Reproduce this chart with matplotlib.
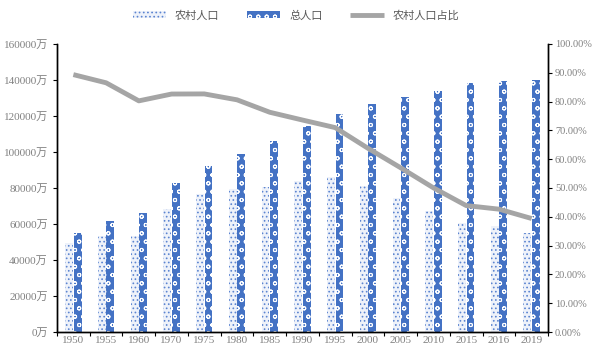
import numpy as np
import matplotlib.pyplot as plt
from matplotlib.ticker import FuncFormatter, FixedLocator

plt.rcParams['font.family'] = ['Liberation Serif', 'Noto Sans CJK SC']
plt.rcParams['hatch.linewidth'] = 0.7

years = ['1950', '1955', '1960', '1970', '1975', '1980', '1985', '1990',
         '1995', '2000', '2005', '2010', '2015', '2016', '2019']
rural = [49402, 53180, 53134, 68568, 76390, 79565, 80757, 84138,
         85947, 80837, 74544, 67113, 60346, 58973, 55162]
total = [55196, 61465, 66207, 82992, 92420, 98705, 105851, 114333,
         121121, 126743, 130756, 134091, 138326, 139232, 140005]
ratio = [89.36, 86.52, 80.25, 82.62, 82.66, 80.61, 76.29, 73.59,
         70.96, 63.78, 57.01, 50.05, 43.90, 42.65, 39.40]

blue = '#4472C4'
grey_txt = '#808080'

fig = plt.figure(figsize=(5.92, 3.49), dpi=100)
ax = fig.add_axes([0.0963, 0.0487, 0.8294, 0.8253])
ax2 = ax.twinx()

x = np.arange(len(years))
w = 0.24
b1 = ax.bar(x - w / 2 - 0.01, rural, w, facecolor='#EEF2FA', edgecolor='#5B84D0',
            hatch='....', linewidth=0, label='农村人口')
b2 = ax.bar(x + w / 2 + 0.01, total, w, facecolor=blue, edgecolor='white',
            hatch='oo', linewidth=0, label='总人口')
ln, = ax2.plot(x, ratio, color='#A5A5A5', lw=3.5, label='农村人口占比',
               solid_capstyle='butt')

ax.set_xlim(-0.5, len(years) - 0.5)
ax.set_ylim(0, 160000)
ax2.set_ylim(0, 100)
ax.set_yticks(np.arange(0, 160001, 20000))
ax2.set_yticks(np.arange(0, 101, 10))
ax.yaxis.set_major_formatter(FuncFormatter(lambda v, p: f'{int(v)}万'))
ax2.yaxis.set_major_formatter(FuncFormatter(lambda v, p: f'{v:.2f}%'))

ax.set_xticks(x)
ax.set_xticklabels(years)
ax.xaxis.set_minor_locator(FixedLocator(np.arange(-0.5, len(years), 1)))
ax.tick_params(axis='x', which='major', length=0, pad=3, labelsize=8,
               labelcolor=grey_txt)
ax.tick_params(axis='x', which='minor', length=3, direction='out', width=0.8)
ax.tick_params(axis='y', length=3, width=0.8, labelsize=8, labelcolor=grey_txt)
ax2.tick_params(axis='y', length=3, width=0.8, labelsize=7.5, pad=2,
                labelcolor=grey_txt)

for a in (ax, ax2):
    a.spines['top'].set_visible(False)
    for s in ('left', 'right', 'bottom'):
        a.spines[s].set_linewidth(1.0)
        a.spines[s].set_color('black')

fig.legend([b1, b2, ln], ['农村人口', '总人口', '农村人口占比'], loc='upper center',
           bbox_to_anchor=(0.5, 1.0), ncol=3, frameon=False,
           prop={'family': 'Noto Sans CJK SC', 'size': 8},
           labelcolor='#595959', handlelength=3, columnspacing=2.5,
           handleheight=0.5)

fig.savefig('out.png', dpi=100)
